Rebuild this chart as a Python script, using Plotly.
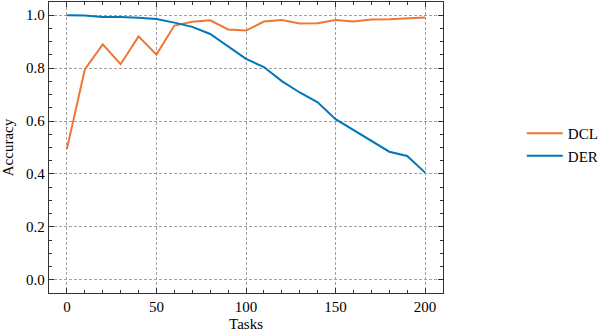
import plotly.graph_objects as go

tasks = [0, 10, 20, 30, 40, 50, 60, 70, 80, 90, 100,
         110, 120, 130, 140, 150, 160, 170, 180, 190, 200]
dcl_acc = [0.494, 0.795, 0.890, 0.815, 0.920, 0.851, 0.961, 0.975, 0.981, 0.946, 0.942,
           0.976, 0.982, 0.969, 0.970, 0.982, 0.976, 0.984, 0.985, 0.987, 0.991]
der_acc = [1.000, 0.999, 0.993, 0.993, 0.990, 0.986, 0.972, 0.956, 0.929, 0.882, 0.835,
           0.804, 0.751, 0.708, 0.671, 0.607, 0.566, 0.528, 0.484, 0.468, 0.405]

FONT = 'Liberation Serif'
FONT_SIZE = 15
AXIS_COLOR = '#333333'

fig = go.Figure()

fig.add_trace(go.Scatter(
    x=tasks, y=dcl_acc,
    mode='lines', name='DCL',
    line=dict(color='#EE7733', width=2)
))
fig.add_trace(go.Scatter(
    x=tasks, y=der_acc,
    mode='lines', name='DER',
    line=dict(color='#0077BB', width=2)
))

axis_common = dict(
    showline=True,
    linecolor=AXIS_COLOR,
    linewidth=1.3,
    mirror='ticks',
    ticks='inside',
    ticklen=5,
    tickwidth=1,
    tickcolor=AXIS_COLOR,
    showgrid=True,
    gridcolor='#a0a0a0',
    gridwidth=0.8,
    griddash='3px,2px',
    zeroline=False,
    automargin=False,
    tickfont=dict(family=FONT, size=FONT_SIZE, color='black'),
)

fig.update_xaxes(
    **axis_common,
    range=[-10, 210],
    tickmode='linear', tick0=0, dtick=50,
    minor=dict(ticks='inside', dtick=10, ticklen=2.5, tickcolor=AXIS_COLOR, showgrid=False),
    title=dict(text='Tasks', font=dict(family=FONT, size=FONT_SIZE, color='black'), standoff=4),
)
fig.update_yaxes(
    **axis_common,
    range=[-0.05, 1.05],
    tickmode='linear', tick0=0, dtick=0.2, tickformat='.1f',
    minor=dict(ticks='inside', dtick=0.05, ticklen=2.5, tickcolor=AXIS_COLOR, showgrid=False),
    title=dict(text='Accuracy', font=dict(family=FONT, size=FONT_SIZE, color='black'), standoff=10),
)

fig.update_layout(
    width=606,
    height=334,
    autosize=False,
    margin=dict(l=49, r=163, t=2, b=41),
    plot_bgcolor='white',
    paper_bgcolor='white',
    showlegend=True,
    legend=dict(
        x=1.20, y=0.51, xanchor='left', yanchor='middle',
        font=dict(family=FONT, size=FONT_SIZE, color='black'),
        bgcolor='rgba(0,0,0,0)',
        itemwidth=36,
        tracegroupgap=2,
    ),
    font=dict(family=FONT),
)

# page body has an 8px default margin; drop it so the figure sits at 0,0
fig.write_html(
    "out.html",
    config={'displayModeBar': False},
    post_script="document.body.style.margin='0';",
)
